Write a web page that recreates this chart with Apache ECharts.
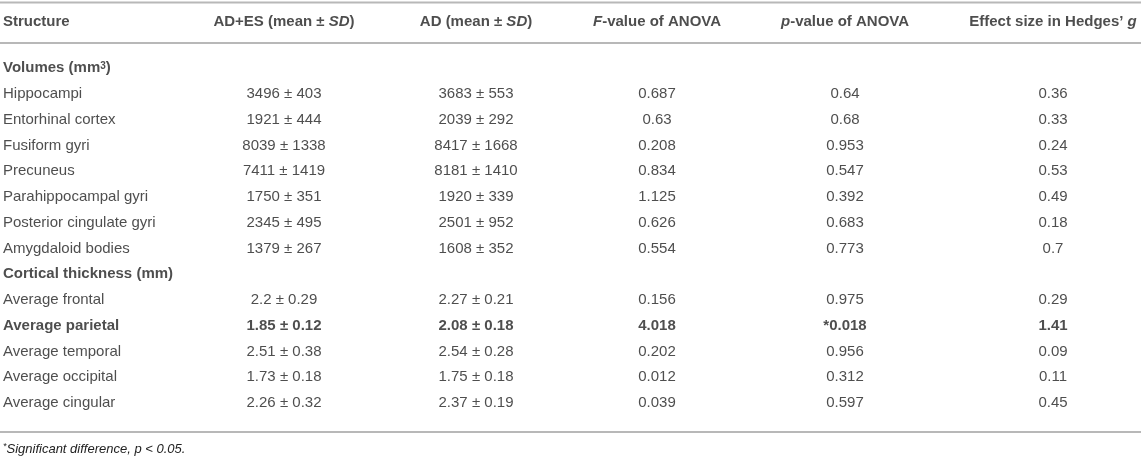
<!DOCTYPE html>
<html lang="en">
<head>
  <meta charset="UTF-8">
  <title>AD+ES vs AD: volumes and cortical thickness</title>
  <script src="https://cdn.jsdelivr.net/npm/echarts@6/dist/echarts.min.js"></script>
  <style>
    html, body { margin: 0; padding: 0; background: #fff; }
    .table-chart { width: 1143px; height: 458px; }
  </style>
</head>
<body>
  <div class="table-chart"></div>

  <script>
    // table data
    var sectionTitles = ['Volumes (mm{sup|3})', 'Cortical thickness (mm)'];
    var volumeRegions = ['Hippocampi', 'Entorhinal cortex', 'Fusiform gyri', 'Precuneus',
      'Parahippocampal gyri', 'Posterior cingulate gyri', 'Amygdaloid bodies'];
    var thicknessRegions = ['Average frontal', 'Average parietal', 'Average temporal',
      'Average occipital', 'Average cingular'];
    var headers = ['Structure', 'AD+ES (mean \u00b1 {bi|SD})', 'AD (mean \u00b1 {bi|SD})',
      '{bi|F}-value of ANOVA', '{bi|p}-value of ANOVA', 'Effect size in Hedges\u2019 {bi|g}'];

    var adesMean = [3496, 1921, 8039, 7411, 1750, 2345, 1379, 2.2, 1.85, 2.51, 1.73, 2.26];
    var adesSD   = [403, 444, 1338, 1419, 351, 495, 267, 0.29, 0.12, 0.38, 0.18, 0.32];
    var adMean   = [3683, 2039, 8417, 8181, 1920, 2501, 1608, 2.27, 2.08, 2.54, 1.75, 2.37];
    var adSD     = [553, 292, 1668, 1410, 339, 952, 352, 0.21, 0.18, 0.28, 0.18, 0.19];
    var fValue   = [0.687, 0.63, 0.208, 0.834, 1.125, 0.626, 0.554, 0.156, 4.018, 0.202, 0.012, 0.039];
    var pValue   = [0.64, 0.68, 0.953, 0.547, 0.392, 0.683, 0.773, 0.975, 0.018, 0.956, 0.312, 0.597];
    var hedgesG  = [0.36, 0.33, 0.24, 0.53, 0.49, 0.18, 0.7, 0.29, 1.41, 0.09, 0.11, 0.45];
    var significant = [false, false, false, false, false, false, false, false, true, false, false, false];
    var footnote = '{ast|*}Significant difference, p < 0.05.';
  </script>

  <script>
    var WIDTH = 1143;
    var COL_X = [3, 284, 476, 657, 845, 1053];
    var FONT = '"Liberation Sans", Arial, Helvetica, sans-serif';
    var INK = '#222';
    var RULE = '#b8b8b8';

    var richStyles = {
      bi: { fontStyle: 'italic', fontWeight: 'bold', fontSize: 15, fontFamily: FONT, color: INK },
      sup: { fontSize: 10, fontWeight: 'bold', fontFamily: FONT, color: INK, verticalAlign: 'top', lineHeight: 10, padding: [0, 0, 8, 0] }
    };

    // rows: section title, then its regions (value index follows region order)
    var rows = [];
    var valueIdx = 0;
    [volumeRegions, thicknessRegions].forEach(function (regions, s) {
      rows.push({ key: 's' + s, text: sectionTitles[s], bold: true, idx: -1 });
      regions.forEach(function (name) {
        rows.push({ key: 'r' + valueIdx, text: name, bold: significant[valueIdx], idx: valueIdx });
        valueIdx++;
      });
    });
    var rowKeys = rows.map(function (r) { return r.key; });

    function cellText(col, i) {
      switch (col) {
        case 1: return adesMean[i] + ' \u00b1 ' + adesSD[i];
        case 2: return adMean[i] + ' \u00b1 ' + adSD[i];
        case 3: return String(fValue[i]);
        case 4: return (significant[i] ? '*' : '') + pValue[i];
        case 5: return String(hedgesG[i]);
      }
    }

    function textSeries(gridIdx, items, leftAlign) {
      return {
        type: 'scatter',
        xAxisIndex: gridIdx,
        yAxisIndex: gridIdx,
        symbolSize: 0,
        silent: true,
        label: {
          show: true,
          position: leftAlign ? 'right' : 'inside',
          distance: 0,
          align: leftAlign ? 'left' : 'center',
          verticalAlign: 'middle',
          fontFamily: FONT,
          fontSize: 15,
          color: INK,
          rich: richStyles,
          formatter: function (p) { return p.data.text; }
        },
        data: items
      };
    }

    var series = [];
    // structure column
    series.push(textSeries(0, rows.map(function (r) {
      return { value: [COL_X[0], r.key], text: r.text, label: { fontWeight: r.bold ? 'bold' : 'normal' } };
    }), true));
    // value columns
    for (var c = 1; c < 6; c++) {
      series.push(textSeries(0, rows.filter(function (r) { return r.idx >= 0; }).map(function (r) {
        return {
          value: [COL_X[c], r.key],
          text: cellText(c, r.idx),
          label: { fontWeight: significant[r.idx] ? 'bold' : 'normal' }
        };
      }), false));
    }
    // header row
    headers.forEach(function (h, c) {
      series.push(textSeries(1, [{ value: [COL_X[c], 'head'], text: h, label: { fontWeight: 'bold' } }], c === 0));
    });

    var el = document.querySelector('.table-chart');
    var chart = echarts.init(el, null, { renderer: 'canvas' });

    chart.setOption({
      animation: false,
      backgroundColor: '#fff',
      grid: [
        { left: 0, right: 0, top: 55.4, bottom: 42.1 },
        { left: 0, right: 0, top: 0, height: 43 }
      ],
      xAxis: [
        { type: 'value', gridIndex: 0, min: 0, max: WIDTH, show: false },
        { type: 'value', gridIndex: 1, min: 0, max: WIDTH, show: false }
      ],
      yAxis: [
        { type: 'category', gridIndex: 0, data: rowKeys, inverse: true, show: false },
        { type: 'category', gridIndex: 1, data: ['head'], show: false }
      ],
      series: series,
      graphic: [
        { type: 'line', silent: true, shape: { x1: 0, y1: 2.5, x2: 1141, y2: 2.5 }, style: { stroke: RULE, lineWidth: 2 } },
        { type: 'line', silent: true, shape: { x1: 0, y1: 43, x2: 1141, y2: 43 }, style: { stroke: RULE, lineWidth: 2 } },
        { type: 'line', silent: true, shape: { x1: 0, y1: 432, x2: 1141, y2: 432 }, style: { stroke: RULE, lineWidth: 2 } },
        {
          type: 'text', silent: true, left: 3, top: 442,
          style: {
            text: footnote,
            fontFamily: FONT, fontSize: 13, fontStyle: 'italic', fill: INK,
            rich: {
              ast: { fontSize: 9, fontStyle: 'italic', fontFamily: FONT, fill: INK, verticalAlign: 'top', padding: [0, 0, 6, 0] }
            }
          }
        }
      ]
    });
  </script>
</body>
</html>
